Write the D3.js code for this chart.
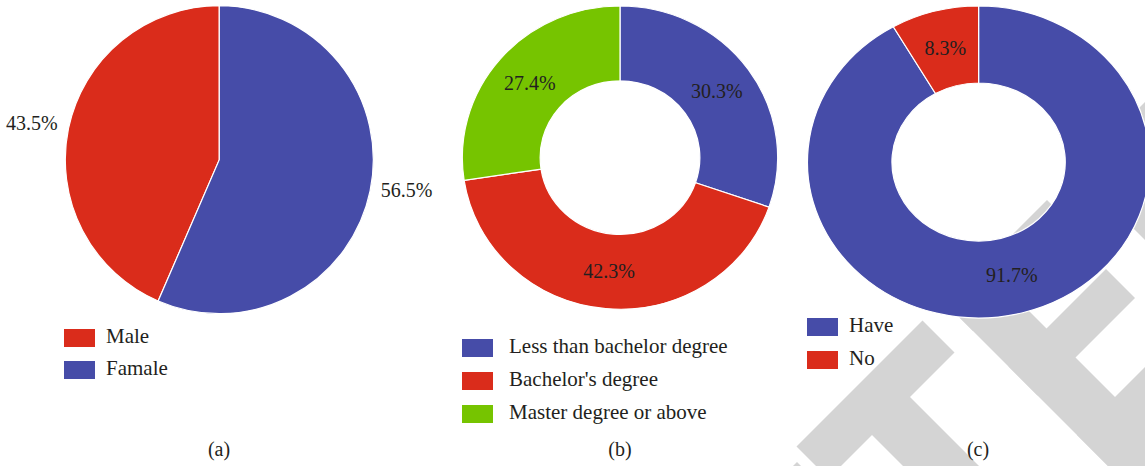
<!DOCTYPE html>
<html>
<head>
<meta charset="utf-8">
<script src="https://cdn.jsdelivr.net/npm/d3@7"></script>
<style>
  html, body { margin: 0; padding: 0; background: #fff; }
  svg { display: block; }
  text { font-family: "Liberation Serif", "DejaVu Serif", serif; fill: #231f20; }
</style>
</head>
<body>
<svg id="chart" width="1145" height="466"></svg>
<script>
// ---- data ----
const genderCategories = ["Male", "Famale"];
const genderValues = [43.5, 56.5];
const genderLabels = ["43.5%", "56.5%"];

const eduCategories = ["Less than bachelor degree", "Bachelor's degree", "Master degree or above"];
const eduValues = [30.3, 42.3, 27.4];
const eduLabels = ["30.3%", "42.3%", "27.4%"];

const haveCategories = ["Have", "No"];
const haveValues = [91.7, 8.3];
const haveLabels = ["91.7%", "8.3%"];

const captions = ["(a)", "(b)", "(c)"];

const BLUE = "#464ca8", RED = "#da2c1b", GREEN = "#76c400";
const genderColors = [RED, BLUE];
const eduColors = [BLUE, RED, GREEN];
const haveColors = [BLUE, RED];

// decorative grey watermark pieces (in rotated u = x+y, v = x-y space): [u0, u1, v0, v1]
const watermarkRects = [
  [1243, 1307, 350, 602],   // T crossbar
  [1300, 1800, 437, 513],   // T stem
  [1247, 1800, 642, 718],   // E stem
  [1247, 1304, 642, 847],   // E top arm
  [1375, 1433, 642, 837],   // E middle arm
  [1512, 1800, 642, 860],   // E bottom arm
  [1247, 1800, 905, 960],   // D stem
  [1247, 1302, 905, 1120],  // D top
  [1259, 1300, 301, 335]    // C fragment
];

const svg = d3.select("#chart");

// watermark (behind)
const wm = svg.append("g");
watermarkRects.forEach(([u0, u1, v0, v1]) => {
  const pts = [[u0, v0], [u0, v1], [u1, v1], [u1, v0]]
    .map(([u, v]) => [(u + v) / 2, (u - v) / 2]);
  wm.append("polygon").attr("points", pts.map(p => p.join(",")).join(" ")).attr("fill", "#d4d4d4");
});

function drawPie(cfg) {
  const pie = d3.pie().sort(null).value(d => d)
    .startAngle(cfg.ccw ? 2 * Math.PI : 0)
    .endAngle(cfg.ccw ? 0 : 2 * Math.PI);
  const arcs = pie(cfg.values);
  const arc = d3.arc().innerRadius(cfg.inner).outerRadius(cfg.outer);

  const g = svg.append("g")
    .attr("transform", `translate(${cfg.cx},${cfg.cy}) scale(${cfg.sx},1)`);
  g.selectAll("path").data(arcs).join("path")
    .attr("d", arc)
    .attr("fill", (d, i) => cfg.colors[i])
    .attr("stroke", "#fff")
    .attr("stroke-width", 1.2)
    .attr("vector-effect", "non-scaling-stroke");

  // labels (not scaled)
  const lg = svg.append("g").attr("transform", `translate(${cfg.cx},${cfg.cy})`);
  arcs.forEach((d, i) => {
    let x, y, anchor = "middle";
    if (cfg.outside) {
      const a = (d.startAngle + d.endAngle) / 2;
      const R = cfg.outer + 11;
      x = Math.sin(a) * R * cfg.sx;
      y = -Math.cos(a) * R;
      anchor = Math.sin(a) < 0 ? "end" : "start";
      y += 4;
    } else {
      const c = arc.centroid(d);
      x = c[0] * cfg.sx;
      y = c[1] + 6.5;
    }
    lg.append("text")
      .attr("x", x).attr("y", y)
      .attr("text-anchor", anchor)
      .attr("font-size", 20)
      .text(cfg.labels[i]);
  });

  // legend
  const leg = svg.append("g");
  cfg.legendOrder.forEach((idx, k) => {
    const y = cfg.legY + k * cfg.legStep;
    leg.append("rect")
      .attr("x", cfg.legX).attr("y", y)
      .attr("width", 31).attr("height", 18)
      .attr("fill", cfg.colors[idx]);
    leg.append("text")
      .attr("x", cfg.legTextX).attr("y", y + 14)
      .attr("font-size", 21)
      .text(cfg.categories[idx]);
  });

  svg.append("text")
    .attr("x", cfg.capX).attr("y", 456)
    .attr("text-anchor", "middle")
    .attr("font-size", 20)
    .text(cfg.caption);
}

drawPie({
  values: genderValues, labels: genderLabels, categories: genderCategories, colors: genderColors,
  ccw: true, cx: 219.3, cy: 159.7, inner: 0, outer: 154, sx: 1, outside: true,
  legendOrder: [0, 1], legX: 64, legY: 329, legStep: 32, legTextX: 106,
  capX: 219, caption: captions[0]
});

drawPie({
  values: eduValues, labels: eduLabels, categories: eduCategories, colors: eduColors,
  ccw: false, cx: 620, cy: 157.6, inner: 76.8, outer: 151.6, sx: 1.04, outside: false,
  legendOrder: [0, 1, 2], legX: 462, legY: 339, legStep: 33, legTextX: 509,
  capX: 620, caption: captions[1]
});

drawPie({
  values: haveValues, labels: haveLabels, categories: haveCategories, colors: haveColors,
  ccw: false, cx: 978.6, cy: 162, inner: 79, outer: 156, sx: 1.097, outside: false,
  legendOrder: [0, 1], legX: 807, legY: 318, legStep: 33, legTextX: 849,
  capX: 978, caption: captions[2]
});
</script>
</body>
</html>
